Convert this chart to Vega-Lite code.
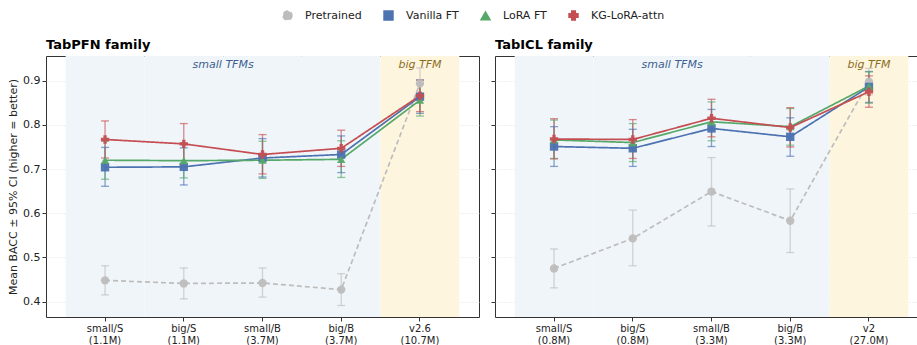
{
  "$schema": "https://vega.github.io/schema/vega-lite/v6.json",
  "padding": {"left": 7, "top": 10, "right": 0, "bottom": 0},
  "background": "white",
  "spacing": 10,
  "datasets": {
    "pts": [
      {"family": "TabPFN", "model": "small/S (1.1M)", "series": "Pretrained", "mean": 0.448, "lo": 0.415, "hi": 0.481},
      {"family": "TabPFN", "model": "big/S (1.1M)", "series": "Pretrained", "mean": 0.441, "lo": 0.406, "hi": 0.476},
      {"family": "TabPFN", "model": "small/B (3.7M)", "series": "Pretrained", "mean": 0.442, "lo": 0.410, "hi": 0.476},
      {"family": "TabPFN", "model": "big/B (3.7M)", "series": "Pretrained", "mean": 0.427, "lo": 0.391, "hi": 0.463},
      {"family": "TabPFN", "model": "v2.6 (10.7M)", "series": "Pretrained", "mean": 0.894, "lo": 0.859, "hi": 0.929},
      {"family": "TabPFN", "model": "small/S (1.1M)", "series": "Vanilla FT", "mean": 0.704, "lo": 0.661, "hi": 0.749},
      {"family": "TabPFN", "model": "big/S (1.1M)", "series": "Vanilla FT", "mean": 0.705, "lo": 0.664, "hi": 0.748},
      {"family": "TabPFN", "model": "small/B (3.7M)", "series": "Vanilla FT", "mean": 0.725, "lo": 0.682, "hi": 0.769},
      {"family": "TabPFN", "model": "big/B (3.7M)", "series": "Vanilla FT", "mean": 0.733, "lo": 0.692, "hi": 0.775},
      {"family": "TabPFN", "model": "v2.6 (10.7M)", "series": "Vanilla FT", "mean": 0.864, "lo": 0.826, "hi": 0.902},
      {"family": "TabPFN", "model": "small/S (1.1M)", "series": "LoRA FT", "mean": 0.720, "lo": 0.677, "hi": 0.763},
      {"family": "TabPFN", "model": "big/S (1.1M)", "series": "LoRA FT", "mean": 0.719, "lo": 0.680, "hi": 0.758},
      {"family": "TabPFN", "model": "small/B (3.7M)", "series": "LoRA FT", "mean": 0.720, "lo": 0.679, "hi": 0.763},
      {"family": "TabPFN", "model": "big/B (3.7M)", "series": "LoRA FT", "mean": 0.722, "lo": 0.681, "hi": 0.764},
      {"family": "TabPFN", "model": "v2.6 (10.7M)", "series": "LoRA FT", "mean": 0.856, "lo": 0.820, "hi": 0.892},
      {"family": "TabPFN", "model": "small/S (1.1M)", "series": "KG-LoRA-attn", "mean": 0.767, "lo": 0.725, "hi": 0.809},
      {"family": "TabPFN", "model": "big/S (1.1M)", "series": "KG-LoRA-attn", "mean": 0.757, "lo": 0.711, "hi": 0.803},
      {"family": "TabPFN", "model": "small/B (3.7M)", "series": "KG-LoRA-attn", "mean": 0.733, "lo": 0.689, "hi": 0.778},
      {"family": "TabPFN", "model": "big/B (3.7M)", "series": "KG-LoRA-attn", "mean": 0.747, "lo": 0.706, "hi": 0.788},
      {"family": "TabPFN", "model": "v2.6 (10.7M)", "series": "KG-LoRA-attn", "mean": 0.866, "lo": 0.830, "hi": 0.901},
      {"family": "TabICL", "model": "small/S (0.8M)", "series": "Pretrained", "mean": 0.475, "lo": 0.431, "hi": 0.519},
      {"family": "TabICL", "model": "big/S (0.8M)", "series": "Pretrained", "mean": 0.543, "lo": 0.481, "hi": 0.607},
      {"family": "TabICL", "model": "small/B (3.3M)", "series": "Pretrained", "mean": 0.649, "lo": 0.571, "hi": 0.726},
      {"family": "TabICL", "model": "big/B (3.3M)", "series": "Pretrained", "mean": 0.583, "lo": 0.511, "hi": 0.655},
      {"family": "TabICL", "model": "v2 (27.0M)", "series": "Pretrained", "mean": 0.898, "lo": 0.868, "hi": 0.928},
      {"family": "TabICL", "model": "small/S (0.8M)", "series": "Vanilla FT", "mean": 0.751, "lo": 0.706, "hi": 0.796},
      {"family": "TabICL", "model": "big/S (0.8M)", "series": "Vanilla FT", "mean": 0.747, "lo": 0.706, "hi": 0.790},
      {"family": "TabICL", "model": "small/B (3.3M)", "series": "Vanilla FT", "mean": 0.792, "lo": 0.751, "hi": 0.835},
      {"family": "TabICL", "model": "big/B (3.3M)", "series": "Vanilla FT", "mean": 0.773, "lo": 0.729, "hi": 0.816},
      {"family": "TabICL", "model": "v2 (27.0M)", "series": "Vanilla FT", "mean": 0.886, "lo": 0.851, "hi": 0.921},
      {"family": "TabICL", "model": "small/S (0.8M)", "series": "LoRA FT", "mean": 0.766, "lo": 0.724, "hi": 0.811},
      {"family": "TabICL", "model": "big/S (0.8M)", "series": "LoRA FT", "mean": 0.760, "lo": 0.717, "hi": 0.803},
      {"family": "TabICL", "model": "small/B (3.3M)", "series": "LoRA FT", "mean": 0.807, "lo": 0.764, "hi": 0.852},
      {"family": "TabICL", "model": "big/B (3.3M)", "series": "LoRA FT", "mean": 0.796, "lo": 0.754, "hi": 0.837},
      {"family": "TabICL", "model": "v2 (27.0M)", "series": "LoRA FT", "mean": 0.888, "lo": 0.849, "hi": 0.920},
      {"family": "TabICL", "model": "small/S (0.8M)", "series": "KG-LoRA-attn", "mean": 0.768, "lo": 0.723, "hi": 0.814},
      {"family": "TabICL", "model": "big/S (0.8M)", "series": "KG-LoRA-attn", "mean": 0.767, "lo": 0.724, "hi": 0.812},
      {"family": "TabICL", "model": "small/B (3.3M)", "series": "KG-LoRA-attn", "mean": 0.815, "lo": 0.773, "hi": 0.858},
      {"family": "TabICL", "model": "big/B (3.3M)", "series": "KG-LoRA-attn", "mean": 0.794, "lo": 0.750, "hi": 0.839},
      {"family": "TabICL", "model": "v2 (27.0M)", "series": "KG-LoRA-attn", "mean": 0.875, "lo": 0.840, "hi": 0.911}
    ],
    "bands": [
      {"family": "TabPFN", "model": "small/S (1.1M)", "region": "small"},
      {"family": "TabPFN", "model": "big/S (1.1M)", "region": "small"},
      {"family": "TabPFN", "model": "small/B (3.7M)", "region": "small"},
      {"family": "TabPFN", "model": "big/B (3.7M)", "region": "small"},
      {"family": "TabPFN", "model": "v2.6 (10.7M)", "region": "big"},
      {"family": "TabICL", "model": "small/S (0.8M)", "region": "small"},
      {"family": "TabICL", "model": "big/S (0.8M)", "region": "small"},
      {"family": "TabICL", "model": "small/B (3.3M)", "region": "small"},
      {"family": "TabICL", "model": "big/B (3.3M)", "region": "small"},
      {"family": "TabICL", "model": "v2 (27.0M)", "region": "big"}
    ],
    "notes": [
      {"family": "TabPFN", "model": "big/S (1.1M)", "region": "small", "text": "small TFMs"},
      {"family": "TabPFN", "model": "v2.6 (10.7M)", "region": "big", "text": "big TFM"},
      {"family": "TabICL", "model": "big/S (0.8M)", "region": "small", "text": "small TFMs"},
      {"family": "TabICL", "model": "v2 (27.0M)", "region": "big", "text": "big TFM"}
    ]
  },
  "config": {
    "font": "DejaVu Sans",
    "view": {"stroke": "#333333", "strokeWidth": 1},
    "axis": {"labelFontSize": 10, "labelColor": "#222222", "tickColor": "#333333", "domain": false, "tickSize": 4, "labelPadding": 2, "titleFontSize": 11, "titleFontWeight": "normal", "titleColor": "#222222"},
    "axisY": {"labelFontSize": 11, "gridColor": "#d8d8d8", "gridDash": [1, 2], "gridWidth": 0.8},
    "title": {"fontSize": 13, "fontWeight": "bold", "anchor": "start", "frame": "group", "color": "#000000", "offset": 4},
    "legend": {"labelFontSize": 11, "labelColor": "#222222", "title": null, "orient": "none", "direction": "horizontal", "legendX": 236, "legendY": -46, "columnPadding": 19, "labelOffset": 12, "symbolSize": 80, "symbolOpacity": 1}
  },
  "hconcat": [
    {
      "width": 433,
      "height": 261,
      "title": {"text": "TabPFN family"},
      "layer": [
        {"data": {"name": "bands"}, "transform": [{"filter": "datum.family == 'TabPFN' && datum.region == 'small'"}], "mark": {"type": "rect", "fill": "#f0f5fa"}, "encoding": {"x": {"field": "model", "type": "nominal", "scale": {"domain": ["small/S (1.1M)", "big/S (1.1M)", "small/B (3.7M)", "big/B (3.7M)", "v2.6 (10.7M)"], "paddingInner": 0, "paddingOuter": 0.25}, "axis": {"title": null, "labelAngle": 0, "labelExpr": "split(datum.value, ' ')", "labelLineHeight": 12}}}},
        {"data": {"name": "bands"}, "transform": [{"filter": "datum.family == 'TabPFN' && datum.region == 'big'"}], "mark": {"type": "rect", "fill": "#fef5df"}, "encoding": {"x": {"field": "model", "type": "nominal"}}},
        {"data": {"name": "notes"}, "transform": [{"filter": "datum.family == 'TabPFN' && datum.region == 'small'"}], "mark": {"type": "text", "fontStyle": "italic", "fontSize": 11, "baseline": "middle", "color": "#3d5f8f"}, "encoding": {"x": {"field": "model", "type": "nominal", "bandPosition": 1}, "y": {"datum": 0.936, "type": "quantitative"}, "text": {"field": "text"}}},
        {"data": {"name": "notes"}, "transform": [{"filter": "datum.family == 'TabPFN' && datum.region == 'big'"}], "mark": {"type": "text", "fontStyle": "italic", "fontSize": 11, "baseline": "middle", "color": "#8c6d1f"}, "encoding": {"x": {"field": "model", "type": "nominal", "bandPosition": 0.5}, "y": {"datum": 0.936, "type": "quantitative"}, "text": {"field": "text"}}},
        {"data": {"name": "pts"}, "transform": [{"filter": "datum.family == 'TabPFN'"}], "mark": {"type": "rule", "strokeWidth": 1.3, "opacity": 0.65}, "encoding": {"x": {"field": "model", "type": "nominal"}, "y": {"field": "lo", "type": "quantitative"}, "y2": {"field": "hi"}, "color": {"field": "series", "type": "nominal"}}},
        {"data": {"name": "pts"}, "transform": [{"filter": "datum.family == 'TabPFN'"}], "mark": {"type": "tick", "thickness": 1.3, "size": 8, "opacity": 0.65}, "encoding": {"x": {"field": "model", "type": "nominal"}, "y": {"field": "lo", "type": "quantitative"}, "color": {"field": "series", "type": "nominal"}}},
        {"data": {"name": "pts"}, "transform": [{"filter": "datum.family == 'TabPFN'"}], "mark": {"type": "tick", "thickness": 1.3, "size": 8, "opacity": 0.65}, "encoding": {"x": {"field": "model", "type": "nominal"}, "y": {"field": "hi", "type": "quantitative"}, "color": {"field": "series", "type": "nominal"}}},
        {"data": {"name": "pts"}, "transform": [{"filter": "datum.family == 'TabPFN'"}], "mark": {"type": "line", "strokeWidth": 1.7}, "encoding": {"x": {"field": "model", "type": "nominal"}, "y": {"field": "mean", "type": "quantitative"}, "color": {"field": "series", "type": "nominal"}, "strokeDash": {"field": "series", "type": "nominal", "scale": {"domain": ["Pretrained", "Vanilla FT", "LoRA FT", "KG-LoRA-attn"], "range": [[5, 3], [1, 0], [1, 0], [1, 0]]}}}},
        {"data": {"name": "pts"}, "transform": [{"filter": "datum.family == 'TabPFN'"}], "mark": {"type": "point", "filled": true, "size": 70, "opacity": 0.95}, "encoding": {
          "x": {"field": "model", "type": "nominal"},
          "y": {"field": "mean", "type": "quantitative", "scale": {"domain": [0.365, 0.956], "nice": false, "zero": false}, "axis": {"values": [0.4, 0.5, 0.6, 0.7, 0.8, 0.9], "format": ".1f", "grid": true, "titlePadding": 4}, "title": "Mean BACC ± 95% CI  (higher = better)"},
          "color": {"field": "series", "type": "nominal", "scale": {"domain": ["Pretrained", "Vanilla FT", "LoRA FT", "KG-LoRA-attn"], "range": ["#bdbdbd", "#4c72b0", "#55a868", "#c44e52"]}},
          "shape": {"field": "series", "type": "nominal", "scale": {"domain": ["Pretrained", "Vanilla FT", "LoRA FT", "KG-LoRA-attn"], "range": ["circle", "square", "triangle-up", "cross"]}}
        }}
      ]
    },
    {
      "width": 424,
      "height": 261,
      "title": {"text": "TabICL family"},
      "layer": [
        {"data": {"name": "bands"}, "transform": [{"filter": "datum.family == 'TabICL' && datum.region == 'small'"}], "mark": {"type": "rect", "fill": "#f0f5fa"}, "encoding": {"x": {"field": "model", "type": "nominal", "scale": {"domain": ["small/S (0.8M)", "big/S (0.8M)", "small/B (3.3M)", "big/B (3.3M)", "v2 (27.0M)"], "paddingInner": 0, "paddingOuter": 0.25, "range": [0, 433]}, "axis": {"title": null, "labelAngle": 0, "labelExpr": "split(datum.value, ' ')", "labelLineHeight": 12}}}},
        {"data": {"name": "bands"}, "transform": [{"filter": "datum.family == 'TabICL' && datum.region == 'big'"}], "mark": {"type": "rect", "fill": "#fef5df"}, "encoding": {"x": {"field": "model", "type": "nominal"}}},
        {"data": {"name": "notes"}, "transform": [{"filter": "datum.family == 'TabICL' && datum.region == 'small'"}], "mark": {"type": "text", "fontStyle": "italic", "fontSize": 11, "baseline": "middle", "color": "#3d5f8f"}, "encoding": {"x": {"field": "model", "type": "nominal", "bandPosition": 1}, "y": {"datum": 0.936, "type": "quantitative"}, "text": {"field": "text"}}},
        {"data": {"name": "notes"}, "transform": [{"filter": "datum.family == 'TabICL' && datum.region == 'big'"}], "mark": {"type": "text", "fontStyle": "italic", "fontSize": 11, "baseline": "middle", "color": "#8c6d1f"}, "encoding": {"x": {"field": "model", "type": "nominal", "bandPosition": 0.5}, "y": {"datum": 0.936, "type": "quantitative"}, "text": {"field": "text"}}},
        {"data": {"name": "pts"}, "transform": [{"filter": "datum.family == 'TabICL'"}], "mark": {"type": "rule", "strokeWidth": 1.3, "opacity": 0.65}, "encoding": {"x": {"field": "model", "type": "nominal"}, "y": {"field": "lo", "type": "quantitative"}, "y2": {"field": "hi"}, "color": {"field": "series", "type": "nominal"}}},
        {"data": {"name": "pts"}, "transform": [{"filter": "datum.family == 'TabICL'"}], "mark": {"type": "tick", "thickness": 1.3, "size": 8, "opacity": 0.65}, "encoding": {"x": {"field": "model", "type": "nominal"}, "y": {"field": "lo", "type": "quantitative"}, "color": {"field": "series", "type": "nominal"}}},
        {"data": {"name": "pts"}, "transform": [{"filter": "datum.family == 'TabICL'"}], "mark": {"type": "tick", "thickness": 1.3, "size": 8, "opacity": 0.65}, "encoding": {"x": {"field": "model", "type": "nominal"}, "y": {"field": "hi", "type": "quantitative"}, "color": {"field": "series", "type": "nominal"}}},
        {"data": {"name": "pts"}, "transform": [{"filter": "datum.family == 'TabICL'"}], "mark": {"type": "line", "strokeWidth": 1.7}, "encoding": {"x": {"field": "model", "type": "nominal"}, "y": {"field": "mean", "type": "quantitative"}, "color": {"field": "series", "type": "nominal"}, "strokeDash": {"field": "series", "type": "nominal"}}},
        {"data": {"name": "pts"}, "transform": [{"filter": "datum.family == 'TabICL'"}], "mark": {"type": "point", "filled": true, "size": 70, "opacity": 0.95}, "encoding": {
          "x": {"field": "model", "type": "nominal"},
          "y": {"field": "mean", "type": "quantitative", "scale": {"domain": [0.365, 0.956], "nice": false, "zero": false}, "axis": {"values": [0.4, 0.5, 0.6, 0.7, 0.8, 0.9], "labels": false, "grid": true, "title": null}},
          "color": {"field": "series", "type": "nominal"},
          "shape": {"field": "series", "type": "nominal"}
        }}
      ]
    }
  ]
}
